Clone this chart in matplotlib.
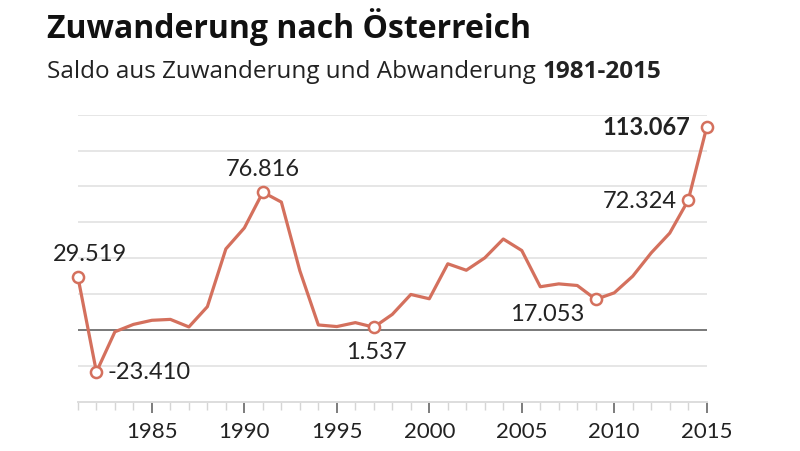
import matplotlib
matplotlib.use("Agg")
import matplotlib.pyplot as plt
import numpy as np

years = list(range(1981, 2016))
saldo = [29.519, -23.410, -1.0, 3.1, 5.4, 5.9, 1.7, 13.0, 45.2, 56.9,
         76.816, 71.3, 33.0, 2.8, 1.9, 4.1, 1.537, 8.7, 19.8, 17.4,
         36.9, 33.3, 40.2, 50.7, 44.3, 24.1, 25.7, 24.8, 17.053, 20.7,
         30.0, 43.0, 54.0, 72.324, 113.067]

labels = {1981: "29.519", 1982: "-23.410", 1991: "76.816", 1997: "1.537",
          2009: "17.053", 2014: "72.324", 2015: "113.067"}
label_offsets = {1981: (-25, 24, "left", "center"),
                 1982: (11, 0, "left", "center"),
                 1991: (0, 24, "center", "center"),
                 1997: (3, -24, "center", "center"),
                 2009: (-11, -14, "right", "center"),
                 2014: (-11, 0, "right", "center"),
                 2015: (-16, 1, "right", "center")}

title = "Zuwanderung nach Österreich"
subtitle = "Saldo aus Zuwanderung und Abwanderung "
subtitle_bold = "1981-2015"

FONT = ["Lato", "DejaVu Sans"]
HEAD = ["Open Sans", "DejaVu Sans"]
plt.rcParams['font.family'] = FONT

line_color = "#d4705d"

fig = plt.figure(figsize=(8, 4.52), dpi=100)
ax = fig.add_axes([0.0974, 0.109, 0.786, 0.635])

ax.set_xlim(1981, 2015)
ax.set_ylim(-40, 120)

for g in range(-20, 121, 20):
    if g == 0:
        continue
    ax.axhline(g, color="#e6e6e6", lw=1.4, zorder=1)
ax.axhline(0, color="#555555", lw=1.1, zorder=2)

ax.plot(years, saldo, color=line_color, lw=2.3, zorder=3, clip_on=False,
        solid_joinstyle="round")

for yr, txt in labels.items():
    v = saldo[years.index(yr)]
    ax.plot([yr], [v], marker="o", ms=8, mfc="white", mec=line_color, mew=1.8,
            zorder=4, clip_on=False)
    dx, dy, ha, va = label_offsets[yr]
    ax.annotate(txt, (yr, v), xytext=(dx, dy), textcoords="offset pixels",
                ha=ha, va=va, fontsize=17, color="#222222",
                fontweight="bold" if yr == 2015 else "normal", zorder=5)

for s in ["top", "right", "left"]:
    ax.spines[s].set_visible(False)
ax.spines["bottom"].set_color("#dddddd")
ax.spines["bottom"].set_linewidth(1.4)
ax.set_yticks([])
ax.set_xticks(list(range(1985, 2016, 5)))
ax.set_xticks(years, minor=True)
ax.tick_params(axis="x", which="major", length=8, width=1.2, color="#666666",
               labelsize=16, labelcolor="#222222", pad=6)
ax.tick_params(axis="x", which="minor", length=6, width=1.0, color="#d5d5d5")

fig.text(0.059, 0.9166, title, fontsize=23, fontweight="bold", color="#111111",
         va="baseline", ha="left", family=HEAD)
t = fig.text(0.059, 0.8274, subtitle, fontsize=17.5, color="#222222",
             va="baseline", ha="left", family=HEAD)
fig.canvas.draw()
bb = t.get_window_extent()
x_end = bb.x1 / fig.bbox.width
fig.text(x_end, 0.8274, subtitle_bold, fontsize=17.5, fontweight="bold",
         color="#222222", va="baseline", ha="left", family=HEAD)

fig.savefig("out.png", dpi=100)
